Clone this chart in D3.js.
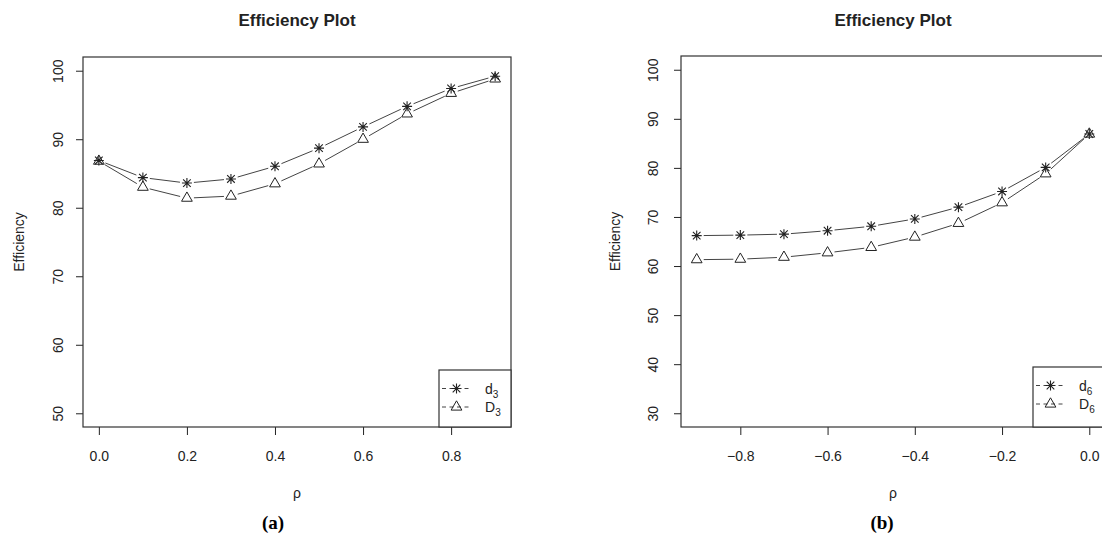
<!DOCTYPE html>
<html>
<head>
<meta charset="utf-8">
<script src="https://cdn.jsdelivr.net/npm/d3@7"></script>
<style>
    body { margin: 0; background: white; }
    svg { display: block; font-family: 'Liberation Sans', Arial, sans-serif; }
</style>
</head>
<body>
<svg id="canvas" width="1102" height="537"></svg>
<script>
// values
let rhoA = [0, 0.1, 0.2, 0.3, 0.4, 0.5, 0.6, 0.7, 0.8, 0.9]
let effSmallA = [86.9, 84.4, 83.6, 84.2, 86.05, 88.7, 91.8, 94.8, 97.4, 99.2]
let effBigA = [86.8, 83.0, 81.4, 81.7, 83.5, 86.4, 90.0, 93.7, 96.7, 98.8]

let rhoB = [-0.9, -0.8, -0.7, -0.6, -0.5, -0.4, -0.3, -0.2, -0.1, 0]
let effSmallB = [66.2, 66.3, 66.5, 67.2, 68.1, 69.6, 72.0, 75.2, 80.1, 86.9]
let effBigB = [61.3, 61.4, 61.8, 62.7, 63.8, 65.9, 68.7, 72.9, 78.8, 86.9]

let xTicksA = [0, 0.2, 0.4, 0.6, 0.8]
let xTicksB = [-0.8, -0.6, -0.4, -0.2, 0]
let yTicksA = [50, 60, 70, 80, 90, 100]
let yTicksB = [30, 40, 50, 60, 70, 80, 90, 100]

let canvas = d3.select('#canvas')
let ink = '#222'

// R pads the data range by 4% on each side
let rExpand = (lo, hi) => {
    let pad = (hi - lo) * 0.04
    return [lo - pad, hi + pad]
}

let fmtTick = (v) => d3.format('.1f')(v).replace('-', '\u2212')

let drawStar = (g, x, y) => {
    let r = 5
    let d = 3.8
    g.append('path')
        .attr('d', `M${x - r},${y}H${x + r}M${x},${y - r}V${y + r}M${x - d},${y - d}L${x + d},${y + d}M${x - d},${y + d}L${x + d},${y - d}`)
        .attr('stroke', ink)
        .attr('stroke-width', 1.1)
        .attr('fill', 'none')
}

let drawTriangle = (g, x, y) => {
    let r = 6.2
    let w = r * 0.866
    g.append('path')
        .attr('d', `M${x},${y - r}L${x + w},${y + r / 2}L${x - w},${y + r / 2}Z`)
        .attr('stroke', ink)
        .attr('stroke-width', 1)
        .attr('fill', 'none')
}

let drawPanel = (p) => {
    let g = canvas.append('g')

    let x = d3.scaleLinear().domain(rExpand(p.xMin, p.xMax)).range([p.left, p.right])
    let y = d3.scaleLinear().domain(rExpand(p.yMin, p.yMax)).range([p.bottom, p.top])

    // title
    g.append('text')
        .attr('x', (p.left + p.right) / 2)
        .attr('y', 26)
        .attr('text-anchor', 'middle')
        .attr('font-weight', 'bold')
        .attr('font-size', '17px')
        .attr('fill', ink)
        .text('Efficiency Plot')

    // axes
    let xAxis = g.append('g')
        .attr('transform', `translate(0,${p.bottom})`)
        .call(d3.axisBottom(x).tickValues(p.xTicks).tickSize(8).tickPadding(16).tickFormat(fmtTick))
    xAxis.select('.domain').remove()
    xAxis.selectAll('line').attr('stroke', ink)
    xAxis.selectAll('text')
        .attr('font-size', '14px')
        .attr('font-family', "'Liberation Sans', Arial, sans-serif")
        .attr('fill', ink)

    let yAxis = g.append('g')
        .attr('transform', `translate(${p.left},0)`)
        .call(d3.axisLeft(y).tickValues(p.yTicks).tickSize(7).tickFormat(d3.format('d')))
    yAxis.select('.domain').remove()
    yAxis.selectAll('line').attr('stroke', ink)
    // R writes the y labels parallel to the axis
    yAxis.selectAll('text')
        .attr('x', null)
        .attr('dy', null)
        .attr('transform', `translate(${p.yLabelX - p.left},0) rotate(-90)`)
        .attr('text-anchor', 'middle')
        .attr('dominant-baseline', 'central')
        .attr('font-size', '14px')
        .attr('font-family', "'Liberation Sans', Arial, sans-serif")
        .attr('fill', ink)

    // box
    g.append('rect')
        .attr('x', p.left)
        .attr('y', p.top)
        .attr('width', p.right - p.left)
        .attr('height', p.bottom - p.top)
        .attr('fill', 'none')
        .attr('stroke', '#333')
        .attr('stroke-width', 1.2)

    // axis titles
    g.append('text')
        .attr('transform', `translate(${p.titleYX},${(p.top + p.bottom) / 2}) rotate(-90)`)
        .attr('text-anchor', 'middle')
        .attr('dominant-baseline', 'central')
        .attr('font-size', '14px')
        .attr('fill', ink)
        .text('Efficiency')

    g.append('text')
        .attr('x', (p.left + p.right) / 2)
        .attr('y', 498)
        .attr('text-anchor', 'middle')
        .attr('font-size', '14px')
        .attr('fill', ink)
        .text('\u03c1')

    g.append('text')
        .attr('x', p.tagX)
        .attr('y', 529)
        .attr('text-anchor', 'middle')
        .attr('font-family', "'Liberation Serif', 'Times New Roman', serif")
        .attr('font-weight', 'bold')
        .attr('font-size', '19px')
        .attr('fill', '#000')
        .text(p.tag)

    // type = "b": segments stop short of the points
    let series = [
        { values: p.small, marker: drawStar },
        { values: p.big, marker: drawTriangle }
    ]
    let gap = 7
    series.forEach((s) => {
        let pts = p.rho.map((r, i) => [x(r), y(s.values[i])])
        let segs = ''
        for (let i = 0; i < pts.length - 1; i++) {
            let [x0, y0] = pts[i]
            let [x1, y1] = pts[i + 1]
            let len = Math.hypot(x1 - x0, y1 - y0)
            if (len <= gap * 2) continue
            let ux = (x1 - x0) / len
            let uy = (y1 - y0) / len
            segs += `M${x0 + ux * gap},${y0 + uy * gap}L${x1 - ux * gap},${y1 - uy * gap}`
        }
        g.append('path')
            .attr('d', segs)
            .attr('stroke', '#444')
            .attr('stroke-width', 1)
            .attr('fill', 'none')
        pts.forEach(([px, py]) => s.marker(g, px, py))
    })

    // legend, bottom right
    let lg = g.append('g')
    lg.append('rect')
        .attr('x', p.legLeft)
        .attr('y', p.legTop)
        .attr('width', p.right - p.legLeft)
        .attr('height', p.bottom - p.legTop)
        .attr('fill', 'white')
        .attr('stroke', '#333')
        .attr('stroke-width', 1.2)

    let rows = [
        { y: p.legTop + 18.5, marker: drawStar, name: p.names[0] },
        { y: p.legTop + 37, marker: drawTriangle, name: p.names[1] }
    ]
    rows.forEach((row) => {
        let x0 = p.legLeft + 3
        lg.append('line')
            .attr('x1', x0)
            .attr('x2', x0 + 29)
            .attr('y1', row.y)
            .attr('y2', row.y)
            .attr('stroke', '#444')
            .attr('stroke-dasharray', '4,3.5')
        row.marker(lg, x0 + 14.5, row.y)
        let t = lg.append('text')
            .attr('x', p.legLeft + 46)
            .attr('y', row.y + 5)
            .attr('font-size', '14px')
            .attr('fill', ink)
        t.append('tspan').text(row.name[0])
        t.append('tspan')
            .attr('font-size', '10px')
            .attr('dy', 4)
            .text(row.name[1])
    })
}

drawPanel({
    left: 83, right: 511, top: 57, bottom: 427,
    xMin: 0, xMax: 0.9, yMin: 50, yMax: 100,
    xTicks: xTicksA, yTicks: yTicksA,
    yLabelX: 58, titleYX: 19,
    rho: rhoA, small: effSmallA, big: effBigA,
    names: [['d', '3'], ['D', '3']],
    legLeft: 439, legTop: 370,
    tag: '(a)', tagX: 273
})

drawPanel({
    left: 681, right: 1105, top: 56, bottom: 427,
    xMin: -0.9, xMax: 0, yMin: 30, yMax: 100,
    xTicks: xTicksB, yTicks: yTicksB,
    yLabelX: 653, titleYX: 615,
    rho: rhoB, small: effSmallB, big: effBigB,
    names: [['d', '6'], ['D', '6']],
    legLeft: 1033, legTop: 367,
    tag: '(b)', tagX: 882
})
</script>
</body>
</html>
